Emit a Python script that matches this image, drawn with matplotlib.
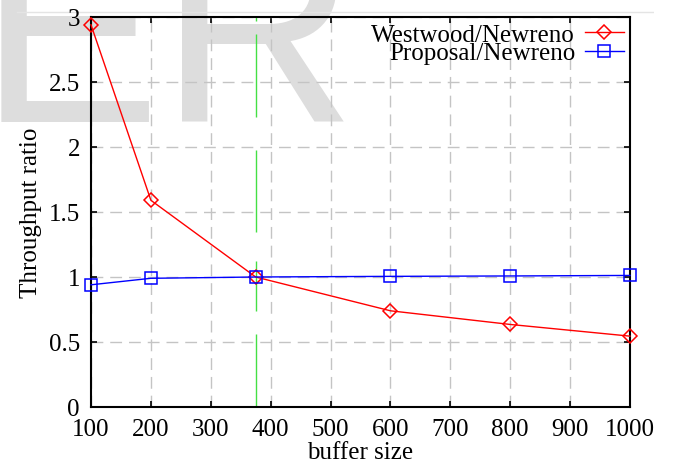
import matplotlib.pyplot as plt
from matplotlib.lines import Line2D
from matplotlib.patches import Rectangle

buffer_size = [100, 200, 375, 600, 800, 1000]
westwood_ratio = [2.94, 1.59, 1.0, 0.74, 0.635, 0.545]
proposal_ratio = [0.94, 0.99, 1.0, 1.005, 1.008, 1.012]

x_ticks = list(range(100, 1001, 100))
y_ticks = [0, 0.5, 1, 1.5, 2, 2.5, 3]
y_tick_labels = ["0", "0.5", "1", "1.5", "2", "2.5", "3"]

# crossover guide: buffer size and the pieces of the broken green line
crossover_x = 375
crossover_spans = [(0.0, 0.56), (0.74, 1.12), (1.35, 1.98), (2.23, 2.87), (2.97, 3.0)]

W, H = 676, 464
FS = 18
plt.rcParams["font.family"] = ["Liberation Serif", "DejaVu Serif"]

fig = plt.figure(figsize=(W / 100, H / 100), dpi=100)

# faint page watermark behind the plot
fig.text(-21 / W, 1 - 122 / H, "ER", fontsize=196, family="Liberation Sans",
         color="#dddddd", ha="left", va="baseline", zorder=-2)
fig.add_artist(Line2D([17 / W, 657 / W], [1 - 12.5 / H] * 2, color="#e4e4e4",
                      lw=1, transform=fig.transFigure, zorder=-1))

ax = fig.add_axes([91 / W, 56 / H, 539 / W, 390 / H])
ax.set_facecolor("none")

ax.grid(True, color="#c4c4c4", linestyle=(0, (8.5, 5)), linewidth=1)
ax.set_axisbelow(True)

ax.vlines([crossover_x] * len(crossover_spans),
          [s[0] for s in crossover_spans], [s[1] for s in crossover_spans],
          color="#44e044", lw=1, zorder=2)

ax.plot(buffer_size, westwood_ratio, color="#ff0000", lw=1, marker="D", ms=6.8,
        mfc="none", mew=1.1, clip_on=False, zorder=3, label="Westwood/Newreno")
ax.plot(buffer_size, proposal_ratio, color="#0000ff", lw=1, marker="s", ms=8.5,
        mfc="none", mew=1.1, clip_on=False, zorder=3, label="Proposal/Newreno")

ax.set_xlim(100, 1000)
ax.set_ylim(0, 3)
ax.set_xticks(x_ticks)
ax.set_yticks(y_ticks)
ax.set_yticklabels(y_tick_labels)
ax.tick_params(direction="in", length=4, width=1.2, top=True, right=True,
               labelsize=FS, color="black")
ax.tick_params(axis="x", pad=8)
ax.tick_params(axis="y", pad=8)
for spine in ax.spines.values():
    spine.set_linewidth(1.5)

ax.set_xlabel("buffer size", fontsize=FS, labelpad=0.5)
ax.set_ylabel("Throughput ratio", fontsize=FS, labelpad=5)

ax.legend(loc="upper right", bbox_to_anchor=(1.0, 1.0), markerfirst=False,
          frameon=False, fontsize=FS, handlelength=1.55, handletextpad=0.4,
          labelspacing=-0.16, borderaxespad=0.1, borderpad=0.15)

# the page is trimmed on the right edge
fig.add_artist(Rectangle((654 / W, 0), 1 - 654 / W, 1, transform=fig.transFigure,
                         facecolor="white", edgecolor="none", zorder=10))

fig.savefig("out.png", dpi=100)
